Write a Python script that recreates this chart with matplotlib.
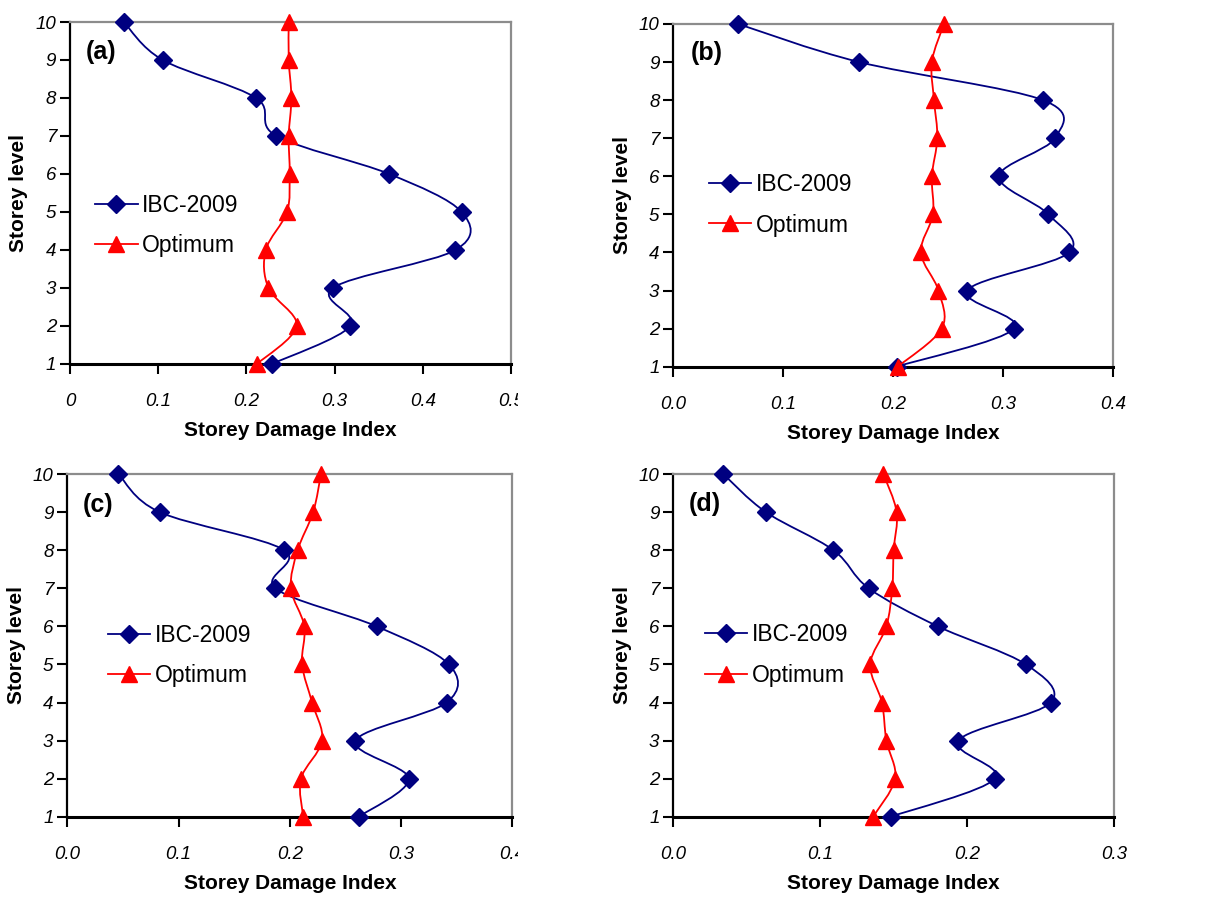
import numpy as np
import matplotlib.pyplot as plt
from matplotlib.path import Path
from matplotlib.patches import PathPatch
from matplotlib.lines import Line2D
from matplotlib.transforms import Bbox, TransformedBbox

plt.rcParams['font.family'] = ['Liberation Sans', 'DejaVu Sans']

# storey levels, bottom to top
storey = [1, 2, 3, 4, 5, 6, 7, 8, 9, 10]

# storey damage index
ibc_a = [0.229, 0.318, 0.298, 0.437, 0.444, 0.362, 0.234, 0.211, 0.105, 0.061]
opt_a = [0.212, 0.257, 0.225, 0.222, 0.246, 0.249, 0.248, 0.251, 0.248, 0.248]
ibc_b = [0.203, 0.310, 0.267, 0.360, 0.341, 0.296, 0.347, 0.336, 0.169, 0.059]
opt_b = [0.204, 0.244, 0.241, 0.225, 0.236, 0.235, 0.240, 0.237, 0.235, 0.246]
ibc_c = [0.262, 0.307, 0.259, 0.341, 0.343, 0.278, 0.187, 0.195, 0.083, 0.046]
opt_c = [0.212, 0.210, 0.229, 0.220, 0.211, 0.213, 0.201, 0.207, 0.221, 0.228]
ibc_d = [0.148, 0.219, 0.194, 0.257, 0.240, 0.180, 0.133, 0.109, 0.063, 0.034]
opt_d = [0.136, 0.151, 0.145, 0.142, 0.134, 0.145, 0.149, 0.150, 0.152, 0.143]

panel_labels = ['(a)', '(b)', '(c)', '(d)']
xmax = [0.5, 0.4, 0.4, 0.3]
xtick_fmt = ['{:g}', '{:.1f}', '{:.1f}', '{:.1f}']
series_names = ['IBC-2009', 'Optimum']

NAVY = '#000080'
RED = '#ff0000'


def smooth_path(xs, ys):
    # excel style smoothed line: cubic bezier through every point
    p = np.column_stack([xs, ys]).astype(float)
    n = len(p)
    verts = [p[0]]
    codes = [Path.MOVETO]
    for i in range(n - 1):
        p0 = p[i - 1] if i > 0 else p[i]
        p3 = p[i + 2] if i + 2 < n else p[i + 1]
        c1 = p[i] + (p[i + 1] - p0) / 6.0
        c2 = p[i + 1] - (p3 - p[i]) / 6.0
        verts += [c1, c2, p[i + 1]]
        codes += [Path.CURVE4] * 3
    return Path(verts, codes)


fig = plt.figure(figsize=(12.26, 8.98), dpi=100)

boxes = [[0.0571, 0.5947, 0.3597, 0.3808],
         [0.5492, 0.5917, 0.3589, 0.3816],
         [0.0549, 0.0905, 0.3630, 0.3816],
         [0.5492, 0.0905, 0.3595, 0.3816]]
legend_pos = [(0.057, 0.405), (0.081, 0.472), (0.0915, 0.470), (0.072, 0.472)]
label_pos = [(0.036, 0.912), (0.040, 0.915), (0.035, 0.909), (0.036, 0.912)]
clip_right = [518, 1226, 518, 1226]

data = [(ibc_a, opt_a), (ibc_b, opt_b), (ibc_c, opt_c), (ibc_d, opt_d)]

for k in range(4):
    ax = fig.add_axes(boxes[k])
    ibc, opt = data[k]

    ax.add_patch(PathPatch(smooth_path(ibc, storey), fill=False, edgecolor=NAVY, lw=1.3, zorder=3))
    ax.plot(ibc, storey, ls='none', marker='D', ms=9, color=NAVY, zorder=4, clip_on=False)
    ax.add_patch(PathPatch(smooth_path(opt, storey), fill=False, edgecolor=RED, lw=1.3, zorder=5))
    ax.plot(opt, storey, ls='none', marker='^', ms=11, color=RED, zorder=6, clip_on=False)

    ax.set_xlim(0, xmax[k])
    ax.set_ylim(1, 10)
    xt = np.arange(0, xmax[k] + 1e-9, 0.1)
    ax.set_xticks(xt)
    ax.set_xticklabels([xtick_fmt[k].format(v) for v in xt])
    ax.set_yticks(storey)
    ax.set_yticklabels([str(s) for s in storey])
    ax.tick_params(axis='both', direction='out', length=7, width=1.5, labelsize=13.5)
    ax.tick_params(axis='x', pad=14)
    ax.tick_params(axis='y', pad=3)
    for lab in ax.get_xticklabels() + ax.get_yticklabels():
        lab.set_fontstyle('italic')

    cb = TransformedBbox(Bbox.from_extents(0, 0, clip_right[k] / 1226.0, 1), fig.transFigure)
    for lab in ax.get_xticklabels():
        lab.set_clip_box(cb)
        lab.set_clip_on(True)

    ax.spines['left'].set_color('black')
    ax.spines['left'].set_linewidth(1.6)
    ax.spines['bottom'].set_color('black')
    ax.spines['bottom'].set_linewidth(2.2)
    for s in ['top', 'right']:
        ax.spines[s].set_color('#8c8c8c')
        ax.spines[s].set_linewidth(1.6)

    ax.set_xlabel('Storey Damage Index', fontsize=15, fontweight='bold', labelpad=8)
    ax.set_ylabel('Storey level', fontsize=15, fontweight='bold', labelpad=5)

    ax.text(label_pos[k][0], label_pos[k][1], panel_labels[k], transform=ax.transAxes,
            fontsize=18, fontweight='bold', ha='left', va='center')

    handles = [Line2D([], [], color=NAVY, lw=1.3, marker='D', ms=9),
               Line2D([], [], color=RED, lw=1.3, marker='^', ms=11)]
    ax.legend(handles, series_names, loc='center left', bbox_to_anchor=legend_pos[k],
              frameon=False, fontsize=16.5, handlelength=1.85, handletextpad=0.2,
              labelspacing=0.75, borderpad=0, borderaxespad=0)

plt.savefig('out.png', dpi=100)
